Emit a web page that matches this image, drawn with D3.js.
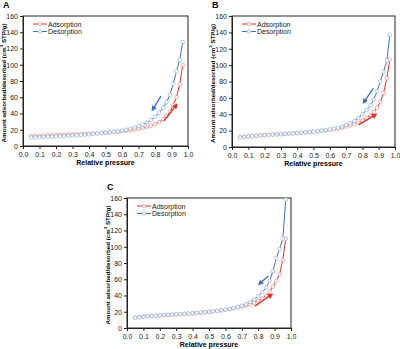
<!DOCTYPE html>
<html>
<head>
<meta charset="utf-8">
<script src="https://cdn.jsdelivr.net/npm/d3@7/dist/d3.min.js"></script>
<style>
	html, body { margin: 0; padding: 0; background: #fff; }
	svg { display: block; font-family: 'Liberation Sans', Arial, sans-serif; }
	.tick text { font-size: 7px; fill: #222; }
	.tick line, .domain { stroke: #222; }
</style>
</head>
<body>
<svg id="chart" width="400" height="349"></svg>
<script>
/* relative pressure points, low -> high */
const pressure = [0.05, 0.075, 0.1, 0.125, 0.15, 0.175, 0.2, 0.225, 0.25, 0.275, 0.3, 0.325, 0.35, 0.375, 0.4, 0.425, 0.45, 0.475, 0.5, 0.525, 0.55, 0.575, 0.6, 0.625, 0.65, 0.675, 0.7, 0.725, 0.75, 0.775, 0.8, 0.825, 0.85, 0.87, 0.89, 0.91, 0.93, 0.95, 0.968];

/* amounts (cm3 STP/g), same order as pressure */
const adsA = [12, 12.3, 12.6, 12.9, 13.1, 13.3, 13.5, 13.7, 13.9, 14.1, 14.3, 14.5, 14.7, 14.9, 15.1, 15.4, 15.7, 16, 16.3, 16.7, 17.1, 17.6, 18.1, 18.7, 19.4, 20.2, 21.1, 22.2, 23.5, 25, 27, 29.5, 33, 37, 42, 50, 60, 76, 100];
const desA = [10.4, 10.6, 10.8, 11, 11.2, 11.4, 11.7, 12, 12.3, 12.6, 12.9, 13.2, 13.5, 13.9, 14.3, 14.9, 15.4, 15.9, 16.4, 16.9, 17.5, 18.2, 19, 20, 21.3, 22.8, 24.5, 26.5, 29, 32, 36, 41, 47, 54, 63, 76, 92, 106, 128];

const adsB = [12, 12.6, 13.1, 13.5, 13.9, 14.3, 14.6, 14.9, 15.2, 15.5, 15.8, 16.1, 16.4, 16.7, 17, 17.4, 17.8, 18.2, 18.7, 19.2, 19.8, 20.4, 21.1, 21.9, 22.8, 23.8, 25, 26.4, 28, 30, 32.5, 35.5, 39, 43, 48, 55, 66, 84, 107];
const desB = [11.5, 12.2, 12.8, 13.3, 13.7, 14.1, 14.4, 14.8, 15.1, 15.4, 15.7, 16, 16.3, 16.7, 17.1, 17.5, 17.9, 18.3, 18.8, 19.4, 20, 20.7, 21.5, 22.4, 23.5, 25, 27, 29, 32, 35.5, 40, 45, 51, 58, 68, 80, 92, 106, 137];

const adsC = [13, 13.6, 14.1, 14.5, 14.9, 15.2, 15.5, 15.8, 16.1, 16.4, 16.7, 17, 17.3, 17.7, 18.1, 18.5, 18.9, 19.4, 19.9, 20.4, 21, 21.7, 22.4, 23.2, 24.1, 25.1, 26.3, 27.6, 29, 31, 33.5, 36.5, 40, 45, 51, 58, 66, 84, 110];
const desC = [12.5, 13.2, 13.8, 14.3, 14.8, 15.2, 15.6, 15.9, 16.2, 16.5, 16.8, 17.1, 17.4, 17.8, 18.2, 18.6, 19, 19.5, 20, 20.6, 21.2, 21.9, 22.7, 23.6, 24.7, 26, 27.6, 29.5, 32, 35, 39, 44, 50, 58, 70, 86, 97, 110, 158];

/* direction arrows: [x1, y1, x2, y2] in data units */
const arrowsA = { ads: [0.855, 31, 0.927, 50], des: [0.836, 61.5, 0.788, 45.5] };
const arrowsB = { ads: [0.776, 27, 0.877, 39], des: [0.867, 71.7, 0.811, 55.3] };
const arrowsC = { ads: [0.78, 27, 0.878, 40.6], des: [0.862, 64, 0.811, 55] };

const xTicks = [0, 0.1, 0.2, 0.3, 0.4, 0.5, 0.6, 0.7, 0.8, 0.9, 1.0];
const yTicks = [0, 20, 40, 60, 80, 100, 120, 140, 160];
const seriesNames = ['Adsorption', 'Desorption'];

const RED = '#e2302a';
const BLUE = '#3f72c2';
const RED_MARK = '#f08a8a';
const BLUE_MARK = '#92b2e2';

const svg = d3.select('#chart');

const defs = svg.append('defs');
[['arrow-red', RED], ['arrow-blue', BLUE]].forEach(([id, c]) => {
	defs.append('marker')
		.attr('id', id)
		.attr('viewBox', '0 0 10 10')
		.attr('refX', 5)
		.attr('refY', 5)
		.attr('markerWidth', 4)
		.attr('markerHeight', 4)
		.attr('orient', 'auto')
		.append('path')
		.attr('d', 'M0,0 L10,5 L0,10 z')
		.attr('fill', c);
});

function drawPanel({ label, left, top, width, height, ads, des, arrows }) {
	const x = d3.scaleLinear([0, 1], [0, width]);
	const y = d3.scaleLinear([0, 160], [height, 0]);

	const g = svg.append('g').attr('transform', `translate(${left}, ${top})`);

	/** PANEL LABEL ***********************************************************/
	g.append('text')
		.attr('x', -20)
		.attr('y', -8)
		.attr('font-size', 9)
		.attr('font-weight', 'bold')
		.text(label);

	/** AXES ******************************************************************/
	g.append('g')
		.attr('transform', `translate(0, ${height})`)
		.call(d3.axisBottom(x).tickValues(xTicks).tickFormat(d3.format('.1f')).tickSize(3).tickPadding(3));

	g.append('g')
		.call(d3.axisLeft(y).tickValues(yTicks).tickSize(3).tickPadding(2));

	g.append('rect')
		.attr('width', width)
		.attr('height', height)
		.attr('fill', 'none')
		.attr('stroke', '#222')
		.attr('stroke-width', 1);

	g.append('text')
		.attr('x', width / 2)
		.attr('y', height + 19)
		.attr('text-anchor', 'middle')
		.attr('font-size', 7)
		.attr('font-weight', 'bold')
		.text('Relative pressure');

	const yl = g.append('text')
		.attr('transform', `translate(-17.5, ${height / 2 + 2}) rotate(-90)`)
		.attr('text-anchor', 'middle')
		.attr('font-size', 6.2)
		.attr('font-weight', 'bold');
	yl.append('tspan').text('Amount adsorbed/desorbed (cm');
	yl.append('tspan').attr('dy', -2.4).attr('font-size', 4.4).text('3');
	yl.append('tspan').attr('dy', 2.4).text(' STP/g)');

	/** DATA ******************************************************************/
	const line = d3.line()
		.x((d) => x(d[0]))
		.y((d) => y(d[1]));

	const series = [
		{ values: pressure.map((p, i) => [p, ads[i]]), color: RED, mark: RED_MARK },
		{ values: pressure.map((p, i) => [p, des[i]]).reverse(), color: BLUE, mark: BLUE_MARK }
	];

	series.forEach((s) => {
		const sg = g.append('g');
		sg.append('path')
			.attr('d', line(s.values))
			.attr('fill', 'none')
			.attr('stroke', s.color)
			.attr('stroke-width', 1);
		sg.selectAll('circle')
			.data(s.values)
			.enter()
			.append('circle')
			.attr('cx', (d) => x(d[0]))
			.attr('cy', (d) => y(d[1]))
			.attr('r', 1.8)
			.attr('fill', '#fff')
			.attr('stroke', s.mark)
			.attr('stroke-width', 0.7);
	});

	/** ARROWS ****************************************************************/
	[[arrows.ads, RED, 'arrow-red'], [arrows.des, BLUE, 'arrow-blue']].forEach(([a, c, m]) => {
		g.append('line')
			.attr('x1', x(a[0]))
			.attr('y1', y(a[1]))
			.attr('x2', x(a[2]))
			.attr('y2', y(a[3]))
			.attr('stroke', c)
			.attr('stroke-width', 1.4)
			.attr('marker-end', `url(#${m})`);
	});

	/** LEGEND ****************************************************************/
	const legend = g.append('g').attr('transform', 'translate(10, 8)');
	seriesNames.forEach((name, i) => {
		const row = legend.append('g').attr('transform', `translate(0, ${i * 7.5})`);
		const c = i === 0 ? RED : BLUE;
		row.append('line')
			.attr('x1', 0)
			.attr('x2', 14)
			.attr('stroke', c)
			.attr('stroke-width', 1);
		row.append('circle')
			.attr('cx', 7)
			.attr('r', 1.8)
			.attr('fill', '#fff')
			.attr('stroke', i === 0 ? RED_MARK : BLUE_MARK)
			.attr('stroke-width', 0.7);
		row.append('text')
			.attr('x', 15)
			.attr('y', 2.5)
			.attr('font-size', 7)
			.attr('fill', '#222')
			.text(name);
	});
}

drawPanel({ label: 'A', left: 23, top: 16, width: 165, height: 130, ads: adsA, des: desA, arrows: arrowsA });
drawPanel({ label: 'B', left: 232, top: 16, width: 163, height: 131, ads: adsB, des: desB, arrows: arrowsB });
drawPanel({ label: 'C', left: 127, top: 198, width: 164, height: 130, ads: adsC, des: desC, arrows: arrowsC });
</script>
</body>
</html>
